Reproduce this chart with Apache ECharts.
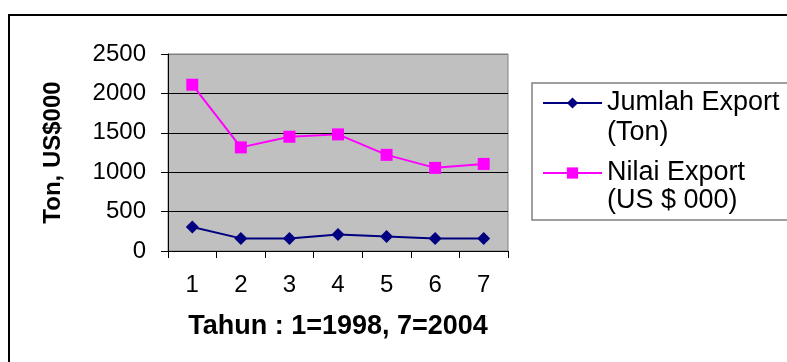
<!DOCTYPE html>
<html>
<head>
<meta charset="utf-8">
<script src="https://cdn.jsdelivr.net/npm/echarts@6/dist/echarts.min.js"></script>
<style>
html,body{margin:0;padding:0;background:#fff;}
#chart{width:787px;height:362px;}
</style>
</head>
<body>
<div id="chart"></div>
<script>
var categories = ['1', '2', '3', '4', '5', '6', '7'];
var jumlahExport = [305, 160, 160, 210, 185, 160, 160];
var nilaiExport = [2110, 1315, 1450, 1480, 1220, 1055, 1105];
var seriesNames = ['Jumlah Export', 'Nilai Export'];
var seriesUnits = ['(Ton)', '(US $ 000)'];
var yTicks = { min: 0, max: 2500, interval: 500 };
var xTitle = 'Tahun : 1=1998, 7=2004';
var yTitle = 'Ton, US$000';

var FONT = "'Liberation Sans', Arial, sans-serif";
var chart = echarts.init(document.getElementById('chart'), null, { renderer: 'canvas' });
chart.setOption({
  backgroundColor: '#fff',
  animation: false,
  textStyle: { fontFamily: FONT, color: '#000' },
  graphic: [
    { type: 'rect', z: -10, silent: true,
      shape: { x: 9, y: 15, width: 900, height: 500 },
      style: { fill: 'none', stroke: '#000', lineWidth: 2 } },
    { type: 'rect', z: -10, silent: true,
      shape: { x: 532, y: 83, width: 400, height: 137 },
      style: { fill: '#fff', stroke: '#808080', lineWidth: 1.5 } },
    { type: 'text', silent: true, x: 607, y: 133,
      style: { text: seriesUnits[0], font: "27px 'Liberation Sans', Arial, sans-serif", fill: '#000', verticalAlign: 'middle', align: 'left' } },
    { type: 'text', silent: true, x: 607, y: 201,
      style: { text: seriesUnits[1], font: "27px 'Liberation Sans', Arial, sans-serif", fill: '#000', verticalAlign: 'middle', align: 'left' } }
  ],
  grid: {
    left: 168, top: 54, width: 340, height: 197,
    show: true, backgroundColor: '#C0C0C0', borderColor: '#808080', borderWidth: 1
  },
  legend: {
    orient: 'vertical', left: 542, top: 88, padding: 0,
    itemWidth: 59, itemHeight: 14, itemGap: 40,
    textStyle: { fontFamily: FONT, fontSize: 27, color: '#000', lineHeight: 30 },
    data: seriesNames
  },
  xAxis: {
    type: 'category', data: categories, boundaryGap: true,
    name: xTitle, nameLocation: 'middle', nameGap: 62,
    nameTextStyle: { fontFamily: FONT, fontSize: 27, fontWeight: 'bold', color: '#000' },
    axisLine: { lineStyle: { color: '#000', width: 1 } },
    axisTick: { show: true, length: 7, inside: false, alignWithLabel: false, lineStyle: { color: '#000' } },
    axisLabel: { fontFamily: FONT, fontSize: 24, color: '#000', margin: 22 },
    splitLine: { show: false }
  },
  yAxis: {
    type: 'value', min: yTicks.min, max: yTicks.max, interval: yTicks.interval,
    name: yTitle, nameLocation: 'middle', nameGap: 103, nameRotate: 90,
    nameTextStyle: { fontFamily: FONT, fontSize: 24, fontWeight: 'bold', color: '#000' },
    axisLine: { show: true, lineStyle: { color: '#000', width: 1 } },
    axisTick: { show: true, length: 7, inside: false, lineStyle: { color: '#000' } },
    axisLabel: { fontFamily: FONT, fontSize: 24, color: '#000', margin: 22,
      formatter: function (v) { return String(v); } },
    splitLine: { show: true, lineStyle: { color: ['#000', '#000', '#000', '#000', '#000', '#808080'], width: 1 } }
  },
  series: [
    { name: seriesNames[0], type: 'line', data: jumlahExport,
      symbol: 'diamond', symbolSize: 13, showAllSymbol: true,
      lineStyle: { color: '#000080', width: 2 },
      itemStyle: { color: '#000080' } },
    { name: seriesNames[1], type: 'line', data: nilaiExport,
      symbol: 'rect', symbolSize: 12, showAllSymbol: true,
      lineStyle: { color: '#FF00FF', width: 2 },
      itemStyle: { color: '#FF00FF' } }
  ]
});
</script>
</body>
</html>
